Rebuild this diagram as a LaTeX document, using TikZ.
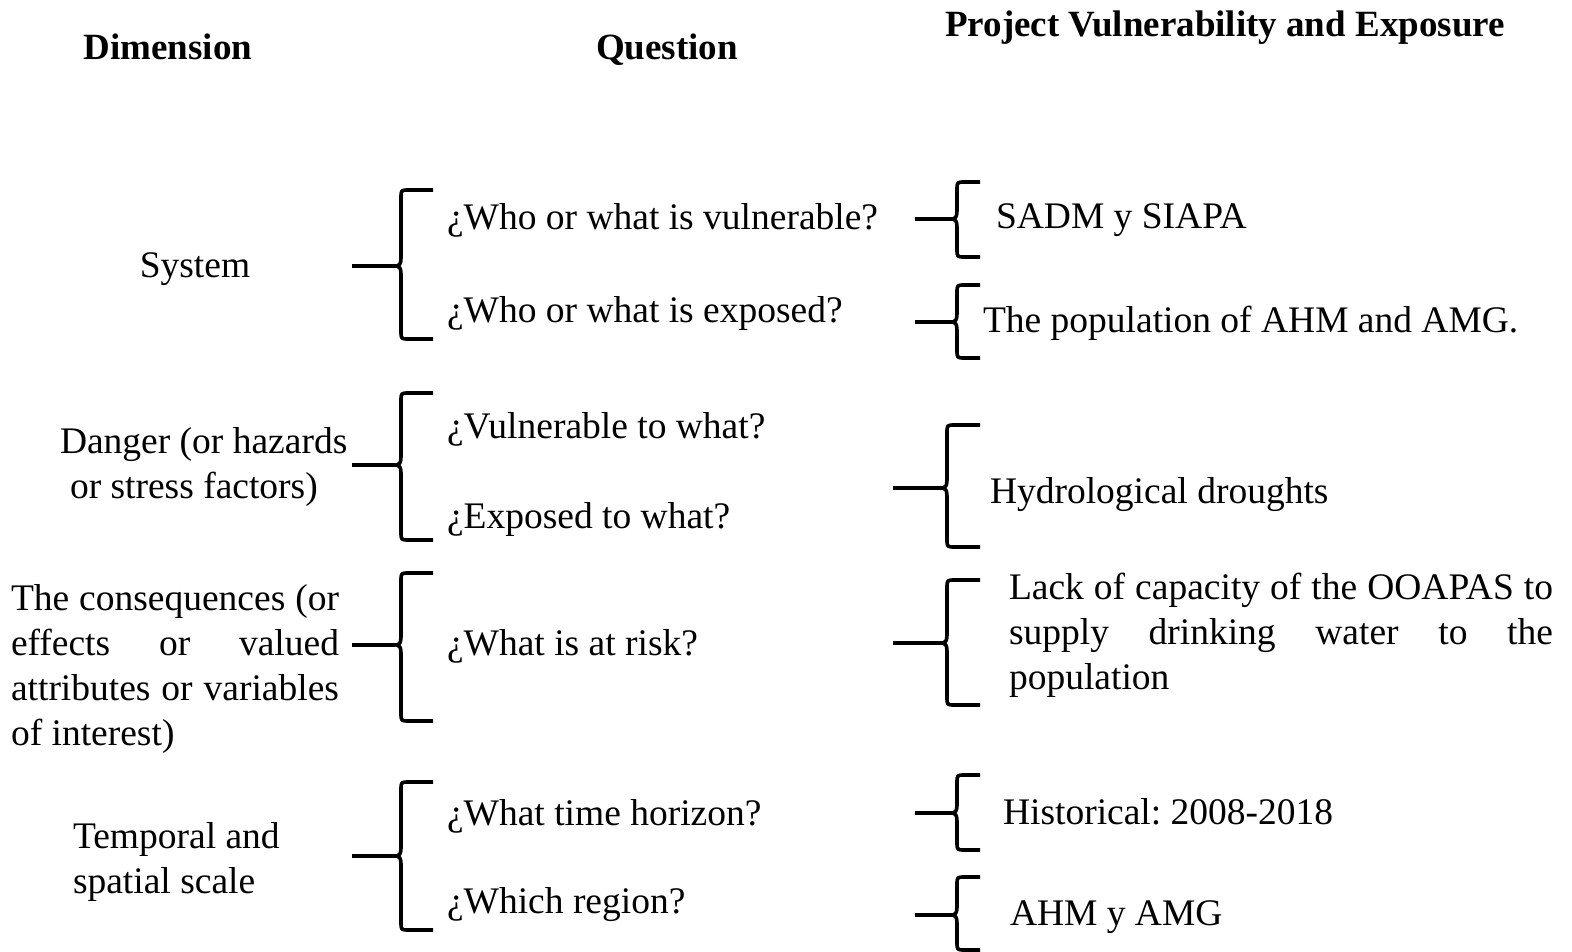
\documentclass[tikz,border=0pt]{standalone}
\usepackage{fontspec}
\setmainfont{Liberation Serif}
\frenchspacing
\newcommand\Curly[6]{% #1 line start x, #2 vertical x, #3 arm end x, #4 top, #5 tip, #6 bottom
  \coordinate (cl) at (#1,#5);
  \coordinate (ct) at (#2-4,#5);
  \draw[brc] (cl) -- (ct);
  \draw[brc] (#3,#4) -- (#2+8,#4) .. controls (#2,#4) .. (#2,#4+8) -- (#2,#5-8)
    .. controls (#2,#5-2) and (#2-2,#5) .. (ct)
    .. controls (#2-2,#5) and (#2,#5+2) .. (#2,#5+8) -- (#2,#6-8)
    .. controls (#2,#6) .. (#2+8,#6) -- (#3,#6);}
\newcommand\jl[2]{\makebox[#1][s]{#2}}
\begin{document}
\begin{tikzpicture}[x=1pt,y=-1pt,
  every node/.style={inner sep=0pt, outer sep=0pt, font=\fontsize{37.5}{45}\selectfont},
  hdr/.style={font=\fontsize{37}{45}\selectfont\bfseries, anchor=base},
  txt/.style={anchor=base west},
  brc/.style={line width=3.6pt, line join=round}]
\useasboundingbox[fill=white] (0,0) rectangle (1572,952);

% headers
\node[hdr] (hdim) at (168,60) {Dimension};
\node[hdr] (hq) at (667,60) {Question};
\node[hdr] (hp) at (1225,37) {Project Vulnerability and Exposure};

% dimensions (multi-line nodes: base = last line)
\node[anchor=base] (sys) at (195,277) {System};
\node[txt, align=left] (dan) at (60,498) {Danger (or hazards\\\hspace*{10pt}or stress factors)};
\node[txt, align=left] (cons) at (11,745) {\jl{328pt}{The consequences (or}\\\jl{328pt}{effects or valued}\\\jl{328pt}{attributes or variables}\\of interest)};
\node[txt, align=left] (temp) at (73,893) {Temporal and\\spatial scale};

% questions
\node[txt] (q1) at (447,230) {¿Who or what is vulnerable?};
\node[txt] (q2) at (447,322) {¿Who or what is exposed?};
\node[txt] (q3) at (447,438) {¿Vulnerable to what?};
\node[txt] (q4) at (447,528) {¿Exposed to what?};
\node[txt] (q5) at (447,655) {¿What is at risk?};
\node[txt] (q6) at (447,825) {¿What time horizon?};
\node[txt] (q7) at (447,913) {¿Which region?};

% answers
\node[txt] (r1) at (996,229) {SADM y SIAPA};
\node[txt] (r2) at (983,332) {The population of AHM and AMG.};
\node[txt] (r3) at (990,503) {Hydrological droughts};
\node[txt, align=left] (r4) at (1009,689) {\jl{544pt}{Lack of capacity of the OOAPAS to}\\\jl{544pt}{supply drinking water to the}\\population};
\node[txt] (r5) at (1003,824) {Historical: 2008-2018};
\node[txt] (r6) at (1010,925) {AHM y AMG};

% left braces
\Curly{352}{401}{433}{190}{266}{339}
\Curly{352}{401}{433}{393}{465}{540}
\Curly{352}{401}{433}{573}{645}{721}
\Curly{352}{401}{433}{782}{856}{930}

% right braces
\Curly{915}{957}{980}{182}{219}{257}
\Curly{915}{957}{980}{285}{322}{358}
\Curly{893}{947}{980}{425}{488}{547}
\Curly{893}{947}{980}{580}{643}{705}
\Curly{915}{957}{980}{775}{813}{850}
\Curly{915}{957}{980}{877}{915}{950}
\end{tikzpicture}
\end{document}
